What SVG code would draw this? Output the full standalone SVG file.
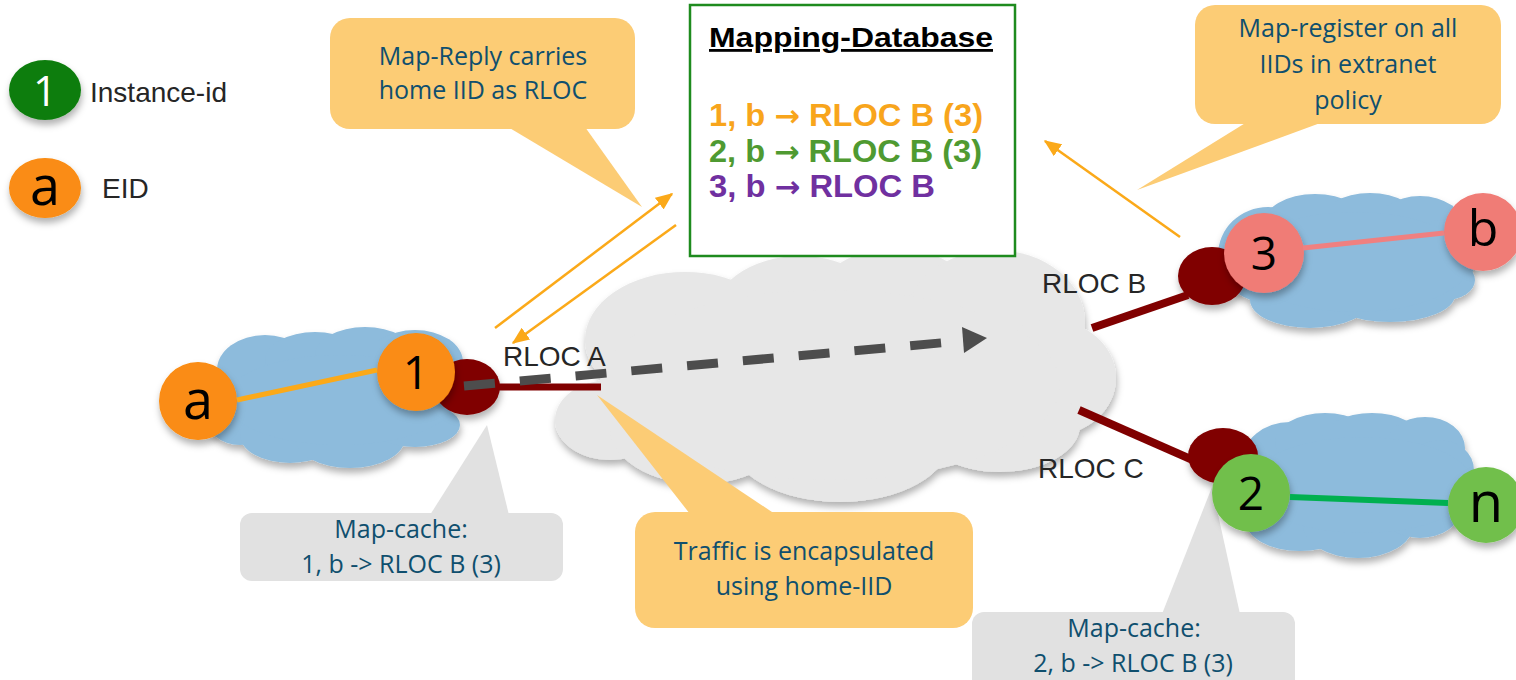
<svg xmlns="http://www.w3.org/2000/svg" width="1516" height="680" viewBox="0 0 1516 680">
<defs>
<filter id="sh" x="-20%" y="-20%" width="140%" height="160%"><feDropShadow dx="1" dy="5" stdDeviation="3.5" flood-color="#000" flood-opacity="0.3"/></filter>
<marker id="oa" viewBox="0 0 12 10" refX="11" refY="5" markerWidth="7" markerHeight="5.8" orient="auto" markerUnits="strokeWidth"><path d="M0,0 L12,5 L0,10 z" fill="#FBA919"/></marker>
<style>
.cl{font-family:"Open Sans","Noto Sans",sans-serif;font-size:25px;fill:#0F4F6E;text-anchor:middle}
.lbl{font-family:"Liberation Sans",Arial,sans-serif;font-size:28px;fill:#262626}
.nt{font-family:"Open Sans","Noto Sans",sans-serif;text-anchor:middle;fill:#000}
.db{font-family:"Liberation Sans",Arial,sans-serif;font-weight:bold;font-size:32px}
.ar{font-family:"DejaVu Sans",sans-serif;font-weight:bold;font-size:30px}
.blue{fill:#8DBBDC}
.gray{fill:#E7E7E7}
.ocall{fill:#FCCC75}
.gcall{fill:#E1E1E1}
.rtr{fill:#800000}
.orn{fill:#FA8C12}
.pnk{fill:#F07B76}
.grn{fill:#71BF4B}
.oarr{stroke:#FBA919;stroke-width:2.5;fill:none;marker-end:url(#oa)}
</style>
</defs>
<rect width="1516" height="680" fill="#fff"/>

<g id="cloud-core" class="gray" filter="url(#sh)">
<ellipse cx="610" cy="420" rx="55" ry="40"/>
<ellipse cx="685" cy="340" rx="100" ry="68"/>
<ellipse cx="800" cy="322" rx="90" ry="66"/>
<ellipse cx="895" cy="312" rx="85" ry="64"/>
<ellipse cx="995" cy="322" rx="90" ry="72"/>
<ellipse cx="1050" cy="378" rx="66" ry="58"/>
<ellipse cx="1000" cy="425" rx="80" ry="47"/>
<ellipse cx="840" cy="440" rx="110" ry="62"/>
<ellipse cx="700" cy="428" rx="90" ry="56"/>
<ellipse cx="830" cy="385" rx="230" ry="95"/>
</g>
<g id="cloud-left" class="blue" filter="url(#sh)">
<ellipse cx="265" cy="370" rx="48" ry="35"/>
<ellipse cx="315" cy="360" rx="50" ry="28"/>
<ellipse cx="365" cy="355" rx="50" ry="28"/>
<ellipse cx="415" cy="362" rx="48" ry="32"/>
<ellipse cx="445" cy="382" rx="22" ry="25"/>
<ellipse cx="240" cy="415" rx="35" ry="30"/>
<ellipse cx="290" cy="435" rx="50" ry="28"/>
<ellipse cx="350" cy="438" rx="55" ry="30"/>
<ellipse cx="415" cy="425" rx="45" ry="22"/>
<ellipse cx="340" cy="400" rx="115" ry="45"/>
</g>
<g id="cloud-right-top" class="blue" filter="url(#sh)">
<ellipse cx="1268" cy="255" rx="50" ry="48"/>
<ellipse cx="1315" cy="225" rx="52" ry="31"/>
<ellipse cx="1370" cy="223" rx="50" ry="30"/>
<ellipse cx="1420" cy="228" rx="45" ry="32"/>
<ellipse cx="1442" cy="255" rx="35" ry="35"/>
<ellipse cx="1310" cy="300" rx="60" ry="28"/>
<ellipse cx="1390" cy="295" rx="65" ry="27"/>
<ellipse cx="1445" cy="280" rx="30" ry="20"/>
<ellipse cx="1355" cy="262" rx="115" ry="50"/>
</g>
<g id="cloud-right-bottom" class="blue" filter="url(#sh)">
<ellipse cx="1290" cy="462" rx="48" ry="40"/>
<ellipse cx="1325" cy="442" rx="50" ry="29"/>
<ellipse cx="1372" cy="440" rx="50" ry="27"/>
<ellipse cx="1425" cy="448" rx="40" ry="31"/>
<ellipse cx="1440" cy="470" rx="34" ry="30"/>
<ellipse cx="1300" cy="520" rx="55" ry="31"/>
<ellipse cx="1358" cy="525" rx="55" ry="33"/>
<ellipse cx="1420" cy="510" rx="40" ry="28"/>
<ellipse cx="1362" cy="485" rx="112" ry="48"/>
</g>

<g id="mapping-database">
<rect x="690" y="5" width="325" height="251" fill="#fff" stroke="#1E8B1E" stroke-width="2.5"/>
<text class="db" x="709" y="47" text-decoration="underline" textLength="284" lengthAdjust="spacingAndGlyphs" style="font-size:28px;fill:#000">Mapping-Database</text>
<text class="db" x="709" y="126" textLength="274" lengthAdjust="spacingAndGlyphs" fill="#F8A51C">1, b <tspan class="ar">→</tspan> RLOC B (3)</text>
<text class="db" x="709" y="162" textLength="273" lengthAdjust="spacingAndGlyphs" fill="#4F9A31">2, b <tspan class="ar">→</tspan> RLOC B (3)</text>
<text class="db" x="709" y="197" textLength="226" lengthAdjust="spacingAndGlyphs" fill="#7030A0">3, b <tspan class="ar">→</tspan> RLOC B</text>
</g>

<g id="callout-map-reply">
<rect class="ocall" x="330" y="18" width="305" height="111" rx="20"/>
<polygon class="ocall" points="508,127 642,207 585,127"/>
<text class="cl" x="483" y="65">Map-Reply carries</text>
<text class="cl" x="483" y="99">home IID as RLOC</text>
</g>
<g id="callout-map-register">
<rect class="ocall" x="1195" y="5" width="306" height="119" rx="20"/>
<polygon class="ocall" points="1247,122 1137,190 1323,122"/>
<text class="cl" x="1348" y="37">Map-register on all</text>
<text class="cl" x="1348" y="73">IIDs in extranet</text>
<text class="cl" x="1348" y="109">policy</text>
</g>
<g id="callout-traffic">
<rect class="ocall" x="635" y="512" width="338" height="116" rx="20"/>
<polygon class="ocall" points="690,514 597,395 775,514"/>
<text class="cl" x="804" y="560">Traffic is encapsulated</text>
<text class="cl" x="804" y="595">using home-IID</text>
</g>
<g id="callout-cache-left">
<rect class="gcall" x="240" y="513" width="323" height="68" rx="12"/>
<polygon class="gcall" points="430,515 487,425 509,515"/>
<text class="cl" x="401" y="538">Map-cache:</text>
<text class="cl" x="401" y="573">1, b -&gt; RLOC B (3)</text>
</g>
<g id="callout-cache-right">
<rect class="gcall" x="972" y="612" width="323" height="80" rx="12"/>
<polygon class="gcall" points="1162,614 1212,487 1240,614"/>
<text class="cl" x="1134" y="637">Map-cache:</text>
<text class="cl" x="1133" y="672">2, b -&gt; RLOC B (3)</text>
</g>

<g id="legend-iid">
<ellipse cx="45" cy="90" rx="36" ry="30" fill="#0A7D0A" filter="url(#sh)"/>
<text class="nt" x="45" y="106" style="font-size:42px;fill:#fff">1</text>
<text class="lbl" x="90" y="102">Instance-id</text>
</g>
<g id="legend-eid">
<ellipse cx="45" cy="188" rx="36" ry="30" class="orn" filter="url(#sh)"/>
<text class="nt" x="45" y="205" style="font-size:54px">a</text>
<text class="lbl" x="102" y="198">EID</text>
</g>

<g id="rtr-a"><ellipse class="rtr" cx="467" cy="387" rx="33" ry="28" filter="url(#sh)"/></g>
<g id="node-a"><circle class="orn" cx="198" cy="401" r="39" filter="url(#sh)"/><text class="nt" x="198" y="419" style="font-size:54px">a</text></g>
<g id="node-1"><circle class="orn" cx="416" cy="372" r="39" filter="url(#sh)"/><text class="nt" x="416" y="389" style="font-size:46px">1</text></g>
<g id="rtr-b"><ellipse class="rtr" cx="1212" cy="276" rx="34" ry="29" filter="url(#sh)"/></g>
<g id="node-3"><circle class="pnk" cx="1264" cy="253" r="40" filter="url(#sh)"/><text class="nt" x="1264" y="270" style="font-size:46px">3</text></g>
<g id="node-b"><circle class="pnk" cx="1483" cy="232" r="39" filter="url(#sh)"/><text class="nt" x="1483" y="246" style="font-size:50px">b</text></g>
<g id="rtr-c"><ellipse class="rtr" cx="1223" cy="456" rx="35" ry="28" filter="url(#sh)"/></g>
<g id="node-2"><circle class="grn" cx="1251" cy="493" r="39" filter="url(#sh)"/><text class="nt" x="1251" y="510" style="font-size:46px">2</text></g>
<g id="node-n"><circle class="grn" cx="1486" cy="505" r="38" filter="url(#sh)"/><text class="nt" x="1486" y="522" style="font-size:56px">n</text></g>

<g id="connectors">
<line x1="237" y1="400" x2="377" y2="370" stroke="#FBA919" stroke-width="5"/>
<line x1="1303" y1="248" x2="1444" y2="233" stroke="#F08080" stroke-width="5"/>
<line x1="1290" y1="497" x2="1448" y2="503" stroke="#00B050" stroke-width="6"/>
<line x1="497" y1="387" x2="601" y2="387" stroke="#800000" stroke-width="7"/>
<line x1="1092" y1="328" x2="1188" y2="295" stroke="#800000" stroke-width="8"/>
<line x1="1079" y1="410" x2="1195" y2="461" stroke="#800000" stroke-width="8"/>
<line x1="464" y1="386" x2="962" y2="341" stroke="#4D4D4D" stroke-width="9" stroke-dasharray="31 25"/>
<polygon points="962,327 987,338 964,353" fill="#4D4D4D"/>
<line class="oarr" x1="495" y1="328" x2="672" y2="194"/>
<line class="oarr" x1="676" y1="225" x2="513" y2="343"/>
<line class="oarr" x1="1180" y1="237" x2="1045" y2="141"/>
</g>

<g id="labels">
<text class="lbl" x="503" y="366">RLOC A</text>
<text class="lbl" x="1042" y="293">RLOC B</text>
<text class="lbl" x="1038" y="478">RLOC C</text>
</g>
</svg>
